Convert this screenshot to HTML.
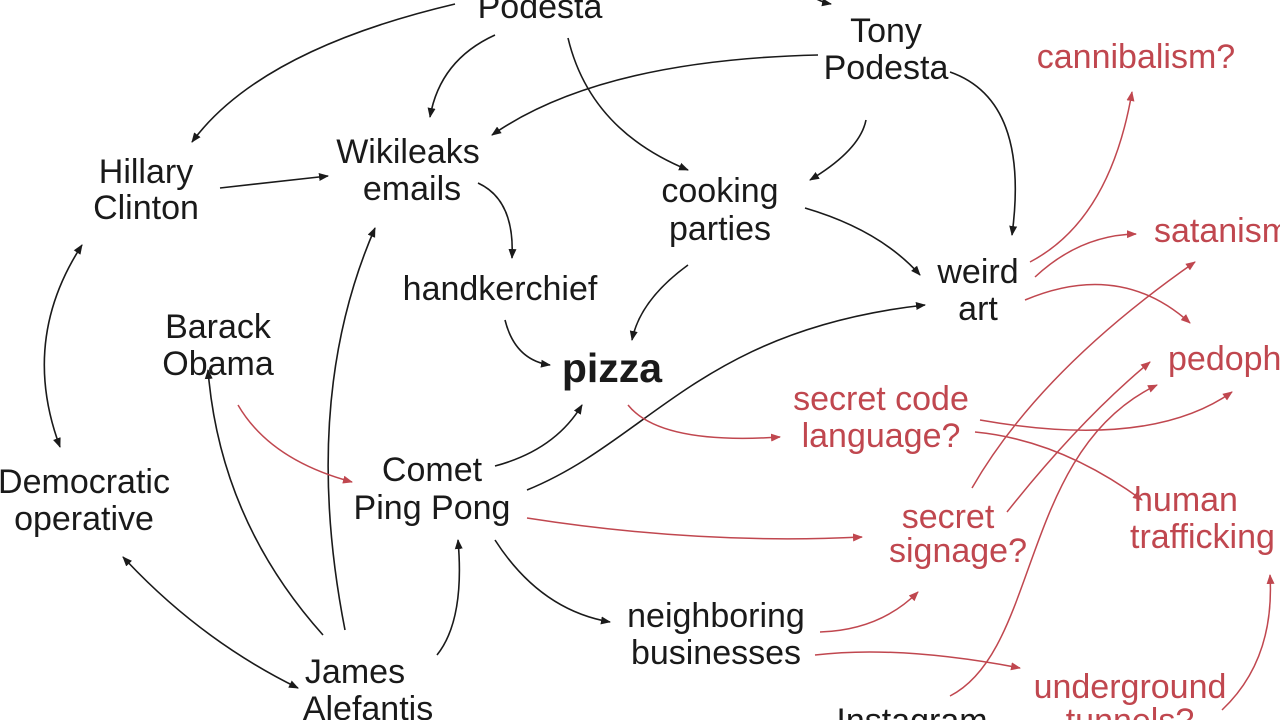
<!DOCTYPE html>
<html><head><meta charset="utf-8"><style>
html,body{margin:0;padding:0;background:#fff;}
svg{display:block}
text{font-family:"Liberation Sans",sans-serif;font-size:34px;text-anchor:middle;}
.b{fill:#1a1a1a}
.r{fill:#c0474f}
.k{fill:none;stroke:#1a1a1a;stroke-width:1.6}
.rd{fill:none;stroke:#c0474f;stroke-width:1.5}
</style></head><body>
<svg width="1280" height="720" viewBox="0 0 1280 720" xmlns="http://www.w3.org/2000/svg">
<defs>
<marker id="ab" viewBox="0 0 10 10" refX="9" refY="5" markerWidth="10" markerHeight="10" orient="auto-start-reverse" markerUnits="userSpaceOnUse"><path d="M0,1 L10,5 L0,9 z" fill="#1a1a1a"/></marker>
<marker id="ar" viewBox="0 0 10 10" refX="9" refY="5" markerWidth="10" markerHeight="10" orient="auto-start-reverse" markerUnits="userSpaceOnUse"><path d="M0,1 L10,5 L0,9 z" fill="#c0474f"/></marker>
</defs>

<g class="k" marker-end="url(#ab)">
<path d="M455,4 Q260,50 192,142"/>
<path d="M495,35 Q440,60 430,117"/>
<path d="M568,38 Q590,130 688,170"/>
<path d="M810,-5 Q820,2 831,4"/>
<path d="M818,55 Q600,60 492,135"/>
<path d="M866,120 Q860,150 810,180"/>
<path d="M950,72 Q1030,100 1012,235"/>
<path d="M220,188 L328,176"/>
<path d="M478,183 Q515,200 512,258"/>
<path d="M688,265 Q640,300 632,340"/>
<path d="M805,208 Q880,230 920,275"/>
<path d="M505,320 Q515,360 550,365"/>
<path d="M495,466 Q555,450 582,405"/>
<path d="M527,490 C650,440 700,330 925,305"/>
<path d="M495,540 Q540,610 610,622"/>
<path d="M82,245 Q20,340 60,447" marker-start="url(#ab)"/>
<path d="M123,557 Q200,640 298,688" marker-start="url(#ab)"/>
<path d="M323,635 Q220,520 208,370"/>
<path d="M345,630 Q300,400 375,228"/>
<path d="M437,655 Q465,620 458,540"/>
</g>

<g class="rd" marker-end="url(#ar)">
<path d="M238,405 Q270,460 352,482"/>
<path d="M628,405 Q660,445 780,437"/>
<path d="M527,518 Q700,545 862,537"/>
<path d="M820,632 Q880,630 918,592"/>
<path d="M815,655 Q900,645 1020,668"/>
<path d="M1030,262 Q1110,220 1132,92"/>
<path d="M1035,277 Q1080,235 1136,234"/>
<path d="M1025,300 Q1120,260 1190,323"/>
<path d="M980,420 Q1150,450 1232,392"/>
<path d="M975,432 Q1060,440 1142,500"/>
<path d="M972,488 Q1040,370 1195,262"/>
<path d="M1007,512 Q1080,420 1150,362"/>
<path d="M950,696 C1040,650 1020,450 1157,385"/>
<path d="M1222,710 Q1275,660 1270,575"/>
</g>

<text class="b" x="540" y="18">Podesta</text>
<text class="b" x="886" y="42">Tony</text>
<text class="b" x="886" y="79">Podesta</text>
<text class="b" x="146" y="183">Hillary</text>
<text class="b" x="146" y="219">Clinton</text>
<text class="b" x="408" y="163">Wikileaks</text>
<text class="b" x="412" y="200">emails</text>
<text class="b" x="720" y="202">cooking</text>
<text class="b" x="720" y="240">parties</text>
<text class="b" x="978" y="283">weird</text>
<text class="b" x="978" y="320">art</text>
<text class="b" x="500" y="300">handkerchief</text>
<text class="b" x="218" y="338">Barack</text>
<text class="b" x="218" y="375">Obama</text>
<text class="b" x="612" y="382" style="font-weight:bold;font-size:41px">pizza</text>
<text class="b" x="84" y="493">Democratic</text>
<text class="b" x="84" y="530">operative</text>
<text class="b" x="432" y="481">Comet</text>
<text class="b" x="432" y="519">Ping Pong</text>
<text class="b" x="716" y="627">neighboring</text>
<text class="b" x="716" y="664">businesses</text>
<text class="b" x="355" y="683">James</text>
<text class="b" x="368" y="720">Alefantis</text>
<text class="b" x="912" y="732">Instagram</text>

<text class="r" x="1136" y="68">cannibalism?</text>
<text class="r" x="1154" y="242" style="text-anchor:start">satanism</text>
<text class="r" x="1168" y="370" style="text-anchor:start">pedophilia</text>
<text class="r" x="881" y="410">secret code</text>
<text class="r" x="881" y="447">language?</text>
<text class="r" x="1134" y="511" style="text-anchor:start">human</text>
<text class="r" x="1130" y="548" style="text-anchor:start">trafficking</text>
<text class="r" x="948" y="528">secret</text>
<text class="r" x="958" y="562">signage?</text>
<text class="r" x="1130" y="698">underground</text>
<text class="r" x="1130" y="732">tunnels?</text>
</svg>
</body></html>
